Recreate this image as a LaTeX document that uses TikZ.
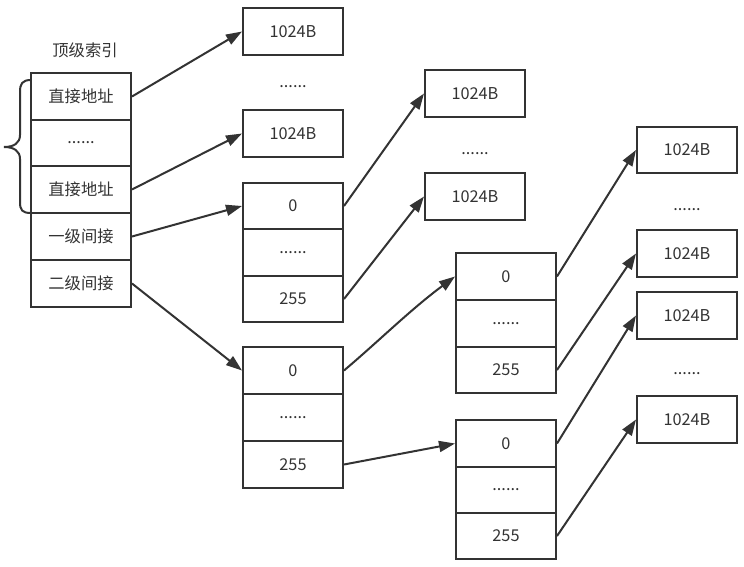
\documentclass[tikz,border=0pt]{standalone}
\usepackage{fontspec}
\setmainfont{Noto Sans CJK SC}
\usetikzlibrary{arrows.meta}
\definecolor{ink}{HTML}{333333}
\tikzset{
  cell/.style={draw=ink, line width=2pt, minimum width=100pt, minimum height=46.5pt, inner sep=0pt, text=ink, font=\fontsize{16.3}{19}\selectfont, anchor=center},
  dots/.style={text=ink, font=\fontsize{16.3}{19}\selectfont, inner sep=0pt},
  arr/.style={draw=ink, line width=2pt, -{Triangle[length=16pt,width=11pt]}, shorten >=0pt},
}
\begin{document}
\begin{tikzpicture}[x=1pt,y=-1pt]
\useasboundingbox (0,0) rectangle (744,567);
% label
\node[text=ink, font=\fontsize{16.3}{19}\selectfont] (title) at (85,50) {顶级索引};
% top-level index
\node[cell] (d1) at (81,96.5) {直接地址};
\node[cell] (dd) at (81,143) {......};
\node[cell] (d2) at (81,189.5) {直接地址};
\node[cell] (i1) at (81,236.5) {一级间接};
\node[cell] (i2) at (81,283.5) {二级间接};
% brace
\draw[ink, line width=2pt] (31,80) .. controls (22,80) and (20,84) .. (20,92)
  -- (20,135) .. controls (20,143) and (14,147) .. (4,147)
  .. controls (14,147) and (20,151) .. (20,159)
  -- (20,202) .. controls (20,210) and (22,213) .. (31,213);
% column 2
\node[cell] (a1) at (293,31.5) {1024B};
\node[dots] (adots) at (293,87) {......};
\node[cell] (a2) at (293,133.5) {1024B};
\node[cell] (t1a) at (293,206) {0};
\node[cell] (t1b) at (293,252.5) {......};
\node[cell] (t1c) at (293,299) {255};
\node[cell] (t2a) at (293,370.5) {0};
\node[cell] (t2b) at (293,417.5) {......};
\node[cell] (t2c) at (293,464.5) {255};
% column 3
\node[cell] (b1) at (475,93.5) {1024B};
\node[dots] (bdots) at (475,154) {......};
\node[cell] (b2) at (475,196.5) {1024B};
\node[cell] (t3a) at (506,276.5) {0};
\node[cell] (t3b) at (506,323.5) {......};
\node[cell] (t3c) at (506,370) {255};
\node[cell] (t4a) at (506,443.5) {0};
\node[cell] (t4b) at (506,490) {......};
\node[cell] (t4c) at (506,536) {255};
% column 4
\node[cell] (c1) at (687,150) {1024B};
\node[dots] (cdots1) at (687,210) {......};
\node[cell] (c2) at (687,253.5) {1024B};
\node[cell] (c3) at (687,315.5) {1024B};
\node[dots] (cdots2) at (687,374) {......};
\node[cell] (c4) at (687,419.5) {1024B};
% arrows
\draw[arr] (d1.east) -- (a1.west);
\draw[arr] (d2.east) -- (a2.west);
\draw[arr] (i1.east) -- (t1a.west);
\draw[arr] (i2.east) -- (t2a.west);
\draw[arr] (t1a.east) -- (b1.west);
\draw[arr] (t1c.east) -- (b2.west);
\draw[arr] (t2a.east) .. controls (380,340) and (410,310) .. (t3a.west);
\draw[arr] (t2c.east) -- (t4a.west);
\draw[arr] (t3a.east) -- (c1.west);
\draw[arr] (t3c.east) -- (c2.west);
\draw[arr] (t4a.east) -- (c3.west);
\draw[arr] (t4c.east) -- (c4.west);
\end{tikzpicture}
\end{document}
